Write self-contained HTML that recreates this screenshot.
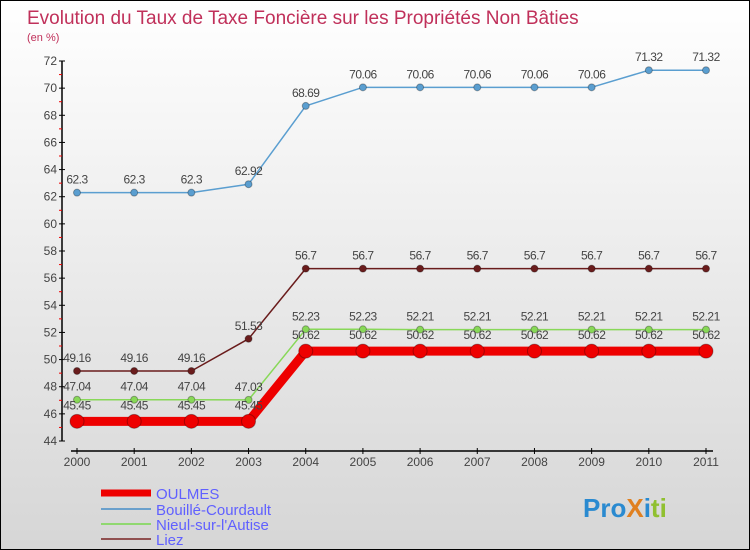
<!DOCTYPE html>
<html><head><meta charset="utf-8"><style>
body{margin:0}
#c{position:relative;width:748px;height:548px;border:1px solid #000;background:linear-gradient(#fff,#d6d6d6);overflow:hidden;font-family:"Liberation Sans",sans-serif}
</style></head><body>
<div id="c">
<svg id="s" width="748" height="548" style="position:absolute;left:0;top:0">
<text x="26" y="23" font-size="19" fill="#c0305a">Evolution du Taux de Taxe Foncière sur les Propriétés Non Bâties</text>
<text x="26" y="40" font-size="11" fill="#c0305a">(en %)</text>
<g id="axes"></g><g id="series"></g>
<g>
<line x1="100" y1="492" x2="150" y2="492" stroke="#e00" stroke-width="7"/>
<text x="155" y="498" font-size="15" fill="#6060ff">OULMES</text>
<line x1="100" y1="508" x2="150" y2="508" stroke="#6aa0cc" stroke-width="2"/>
<text x="155" y="514" font-size="15" fill="#6060ff">Bouillé-Courdault</text>
<line x1="100" y1="523" x2="150" y2="523" stroke="#90d870" stroke-width="2"/>
<text x="155" y="529" font-size="15" fill="#6060ff">Nieul-sur-l'Autise</text>
<line x1="100" y1="538" x2="150" y2="538" stroke="#905050" stroke-width="2"/>
<text x="155" y="544" font-size="15" fill="#6060ff">Liez</text>
</g>
<text x="582" y="516" font-size="26" font-weight="bold"><tspan fill="#2a8ad0">Pro</tspan><tspan fill="#e08020">X</tspan><tspan fill="#2a8ad0">i</tspan><tspan fill="#90c030">ti</tspan></text>
</svg>
</div>
<script>
const years=[2000,2001,2002,2003,2004,2005,2006,2007,2008,2009,2010,2011];
const oulmes=[45.45,45.45,45.45,45.45,50.62,50.62,50.62,50.62,50.62,50.62,50.62,50.62];
const bouille=[62.3,62.3,62.3,62.92,68.69,70.06,70.06,70.06,70.06,70.06,71.32,71.32];
const nieul=[47.04,47.04,47.04,47.03,52.23,52.23,52.21,52.21,52.21,52.21,52.21,52.21];
const liez=[49.16,49.16,49.16,51.53,56.7,56.7,56.7,56.7,56.7,56.7,56.7,56.7];
const yTicks=[44,46,48,50,52,54,56,58,60,62,64,66,68,70,72];
const NS="http://www.w3.org/2000/svg";
const X=i=>76+i*(705-76)/(years.length-1);
const Y=v=>440-(v-44)*380/28;
function mk(t,a,p){const e=document.createElementNS(NS,t);for(const k in a)e.setAttribute(k,a[k]);p.appendChild(e);return e;}
const ax=document.getElementById('axes'),sr=document.getElementById('series');
let e=mk('line',{x1:61,y1:Y(72),x2:61,y2:Y(44),stroke:'#000','stroke-width':1.5},ax);


e=mk('line',{x1:70,y1:450,x2:712,y2:450,stroke:'#000','stroke-width':1.5},ax);


yTicks.forEach((v,k)=>{
 mk('line',{x1:58,y1:Y(v),x2:64,y2:Y(v),stroke:'#000'},ax);
 if(k<yTicks.length-1)mk('line',{x1:58,y1:Y(v+1),x2:61,y2:Y(v+1),stroke:'#e00'},ax);
 const t=mk('text',{x:56,y:Y(v)+4,'font-size':12,fill:'#444','text-anchor':'end'},ax);t.textContent=v;
 
 
});
years.forEach((y,i)=>{
 mk('line',{x1:X(i),y1:447,x2:X(i),y2:453,stroke:'#000'},ax);
 const t=mk('text',{x:X(i),y:465,'font-size':12,fill:'#444','text-anchor':'middle'},ax);t.textContent=y;
 
 
});
function draw(name,vals,col,w,r,dy){
 const g=mk('g',{},sr);
 
 
 const p=mk('polyline',{points:vals.map((v,i)=>X(i)+','+Y(v)).join(' '),fill:'none',stroke:col,'stroke-width':w,'stroke-linejoin':'round'},g);
 
 
 vals.forEach((v,i)=>{
  const c=mk('circle',{cx:X(i),cy:Y(v),r:r,fill:col,stroke:'rgba(0,0,0,0.3)','stroke-width':1},g);
  
  
  const t=mk('text',{x:X(i),y:Y(v)+dy,'font-size':12,fill:'#444','text-anchor':'middle','letter-spacing':'-0.5'},g);
  t.textContent=v;
  
  
 });
}
draw('bouille',bouille,'#5a9ed0',1.5,3.5,-9);
draw('liez',liez,'#6a1c1c',1.5,3.5,-9);
draw('nieul',nieul,'#88d858',1.5,3.5,-9);
draw('oulmes',oulmes,'#ee0000',9,7,-12);
</script>
</body></html>
